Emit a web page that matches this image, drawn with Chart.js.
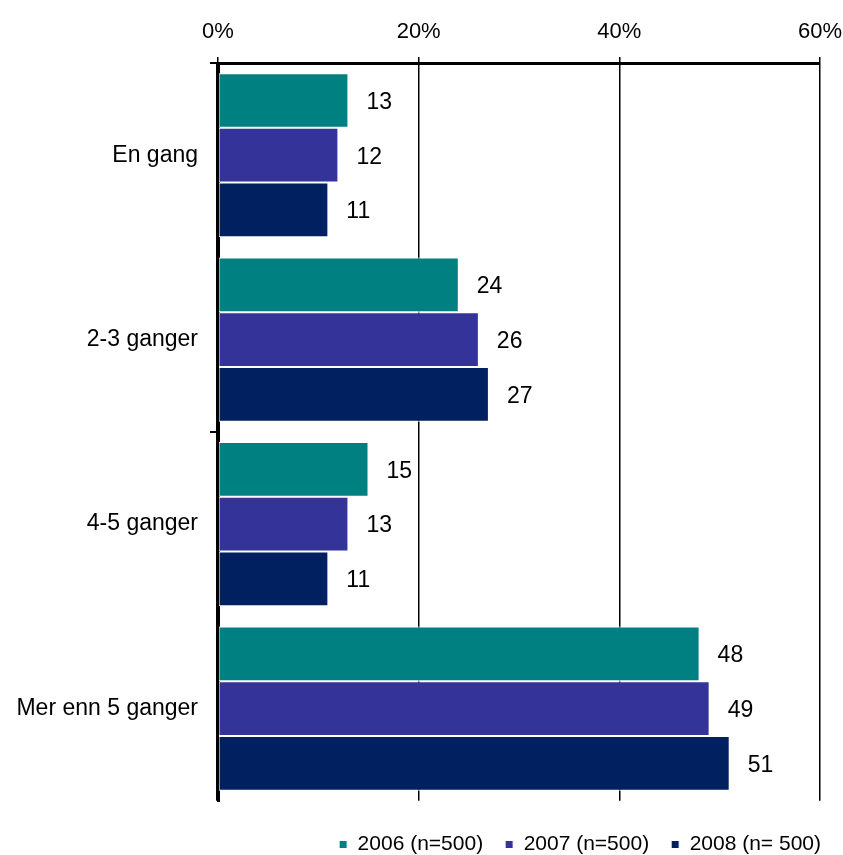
<!DOCTYPE html>
<html>
<head>
<meta charset="utf-8">
<script src="https://cdn.jsdelivr.net/npm/chart.js@4/dist/chart.umd.min.js"></script>
<style>
  html, body { margin: 0; padding: 0; background: #fff; }
  #wrap { width: 843px; height: 855px; }
</style>
</head>
<body>
<div id="wrap"><canvas id="c" width="843" height="855"></canvas></div>
<script>
// Frequency categories and yearly shares (%)
const categories = ['En gang', '2-3 ganger', '4-5 ganger', 'Mer enn 5 ganger'];
const seriesNames = ['2006 (n=500)', '2007 (n=500)', '2008 (n= 500)'];
const values2006 = [13, 24, 15, 48];
const values2007 = [12, 26, 13, 49];
const values2008 = [11, 27, 11, 51];
const xTicks = [0, 20, 40, 60];

const colors = ['#008080', '#333399', '#002060'];
const FONT = '"Liberation Sans", Arial, sans-serif';

// Draws the value next to the end of each bar, then the left axis line on top
const valueLabels = {
  id: 'valueLabels',
  afterDatasetsDraw(chart) {
    const ctx = chart.ctx;
    ctx.save();
    ctx.font = '23px ' + FONT;
    ctx.fillStyle = '#000';
    ctx.textAlign = 'left';
    ctx.textBaseline = 'middle';
    chart.data.datasets.forEach((ds, i) => {
      chart.getDatasetMeta(i).data.forEach((bar, j) => {
        ctx.fillText(String(ds.data[j]), bar.x + 18, bar.y + 2);
      });
    });
    const a = chart.chartArea;
    ctx.strokeStyle = '#000';
    ctx.lineWidth = 3;
    ctx.beginPath();
    ctx.moveTo(a.left - 0.5, a.top);
    ctx.lineTo(a.left - 0.5, a.bottom);
    ctx.stroke();
    ctx.restore();
  }
};

new Chart(document.getElementById('c'), {
  type: 'bar',
  data: {
    labels: categories,
    datasets: [values2006, values2007, values2008].map((d, i) => ({
      label: seriesNames[i],
      data: d,
      backgroundColor: colors[i],
      borderColor: '#ffffff',
      borderWidth: 1,
      borderSkipped: false,
      categoryPercentage: 0.89,
      barPercentage: 1.0
    }))
  },
  options: {
    indexAxis: 'y',
    responsive: false,
    animation: false,
    layout: { padding: { top: 0, right: 0, left: 8, bottom: -10 } },
    plugins: {
      legend: {
        position: 'bottom',
        align: 'end',
        // empty title acts as a spacer between the plot and the legend row
        title: { display: true, text: '', font: { size: 1 }, padding: { top: 10, bottom: 0 } },
        labels: {
          font: { family: FONT, size: 21 },
          color: '#000',
          boxWidth: 8,
          boxHeight: 8,
          padding: 22
        }
      },
      tooltip: { enabled: false }
    },
    scales: {
      x: {
        position: 'top',
        min: 0,
        max: 60,
        afterBuildTicks: (s) => { s.ticks = xTicks.map(v => ({ value: v })); },
        ticks: {
          font: { family: FONT, size: 22 },
          color: '#000',
          padding: 12,
          callback: (v) => v + '%'
        },
        grid: {
          color: '#000',
          lineWidth: 1.5,
          drawTicks: true,
          tickLength: 6
        },
        border: { color: '#000', width: 3 },
        afterFit: (s) => { s.height = 63; s.paddingRight = 23; }
      },
      y: {
        ticks: {
          font: { family: FONT, size: 23 },
          color: '#000',
          padding: 12
        },
        grid: {
          offset: true,
          drawOnChartArea: false,
          drawTicks: true,
          tickLength: 8,
          lineWidth: 2,
          color: (c) => (c.index % 2 === 0 ? '#000' : 'rgba(0,0,0,0)')
        },
        border: { color: '#000', width: 3 },
        afterFit: (s) => { s.width = 210; }
      }
    }
  },
  plugins: [valueLabels]
});
</script>
</body>
</html>
